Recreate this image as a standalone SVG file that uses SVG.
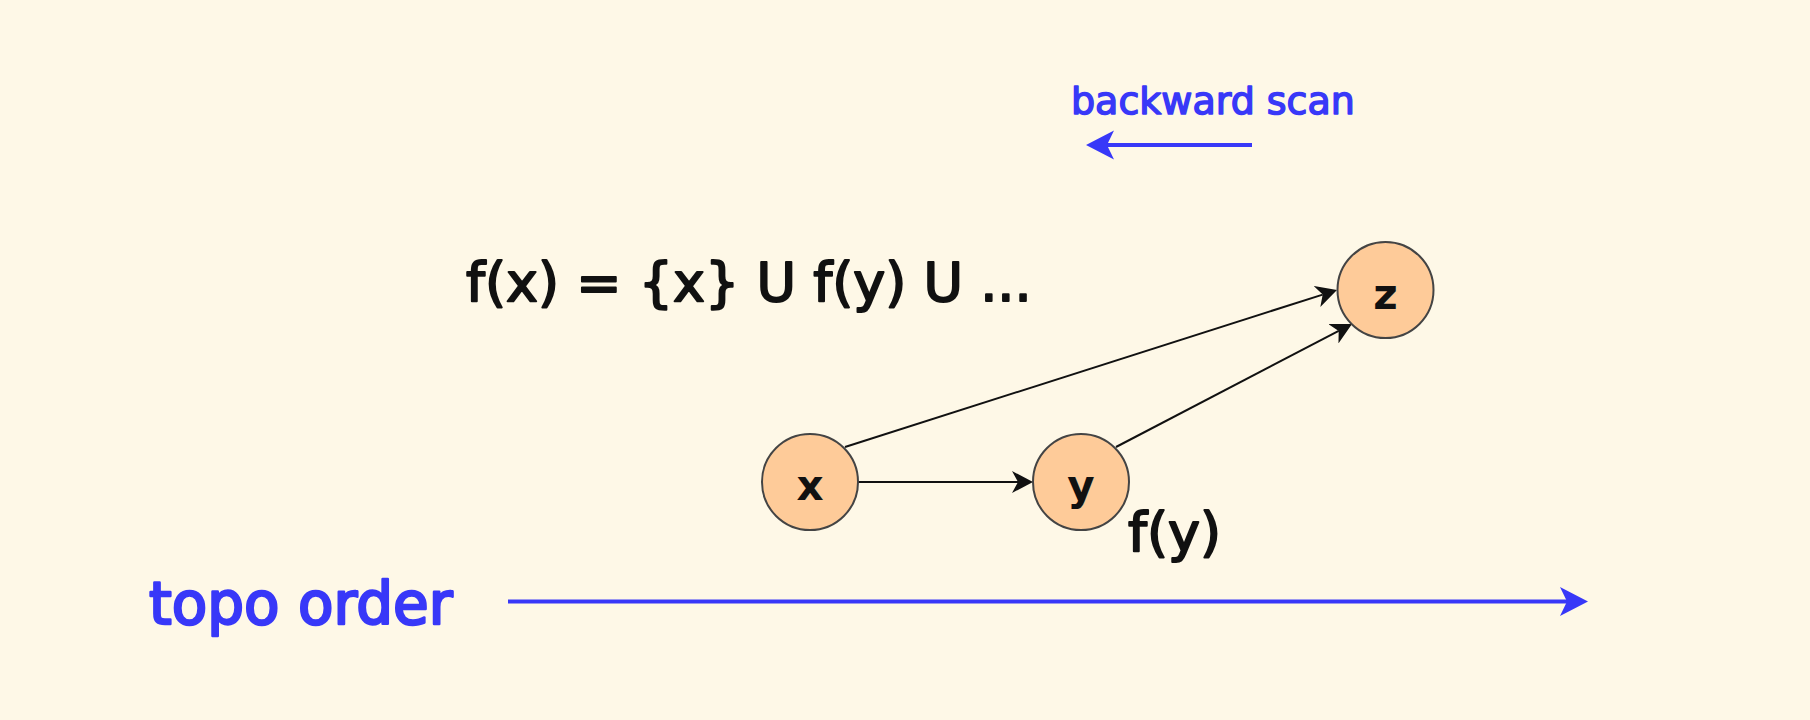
<svg xmlns="http://www.w3.org/2000/svg" width="1810" height="720" viewBox="0 0 1810 720">
<style>
.bg{fill:#fef8e7}
.node circle{fill:#fecb99;stroke:#444;stroke-width:2}
.node text{font-family:"DejaVu Sans",sans-serif;font-size:42px;font-weight:bold;fill:#111;text-anchor:middle}
.lbl{font-family:"DejaVu Sans",sans-serif;font-size:54px;fill:#111;stroke:#111;stroke-width:2;stroke-linejoin:round}
.blue{font-family:"DejaVu Sans",sans-serif;fill:#3838f8;stroke:#3838f8;stroke-linejoin:round}
.edge{stroke:#111;stroke-width:2;fill:none;marker-end:url(#ah)}
.flow{stroke:#3838f8;stroke-width:4;fill:none;marker-end:url(#bh)}
</style>
<defs>
<marker id="ah" markerUnits="userSpaceOnUse" markerWidth="22" markerHeight="22" refX="6" refY="11" orient="auto" viewBox="0 0 22 22">
<path d="M0,0 L21,11 L0,22 L6,11 z" fill="#111"/>
</marker>
<marker id="bh" markerUnits="userSpaceOnUse" markerWidth="30" markerHeight="30" refX="7" refY="14.5" orient="auto" viewBox="0 0 30 30">
<path d="M0,0 L28,14.5 L0,29 L7,14.5 z" fill="#3838f8"/>
</marker>
</defs>
<rect class="bg" x="0" y="0" width="1810" height="720"/>
<g id="connectors">
<line class="edge" x1="858" y1="482" x2="1018" y2="482"/>
<line class="edge" x1="845" y1="447" x2="1322.7" y2="294.6"/>
<line class="edge" x1="1116" y1="447" x2="1338.7" y2="330.9"/>
<line class="flow" x1="508" y1="601.5" x2="1567" y2="601.5"/>
<line class="flow" x1="1252" y1="145" x2="1107" y2="145"/>
</g>
<g id="node-x" class="node"><circle cx="810" cy="482" r="48"/><text x="810" y="500">x</text></g>
<g id="node-y" class="node"><circle cx="1081" cy="482" r="48"/><text x="1081" y="500">y</text></g>
<g id="node-z" class="node"><circle cx="1385.5" cy="290" r="48"/><text x="1385.5" y="309">z</text></g>
<g id="label-fx"><text class="lbl" x="466" y="301">f(x) = {x} U f(y) U ...</text></g>
<g id="label-fy"><text class="lbl" x="1128" y="551">f(y)</text></g>
<g id="label-backward"><text class="blue" x="1071" y="114" font-size="38" stroke-width="1.5">backward scan</text></g>
<g id="label-topo"><text class="blue" x="149" y="624" font-size="58" stroke-width="2.5">topo order</text></g>
</svg>
